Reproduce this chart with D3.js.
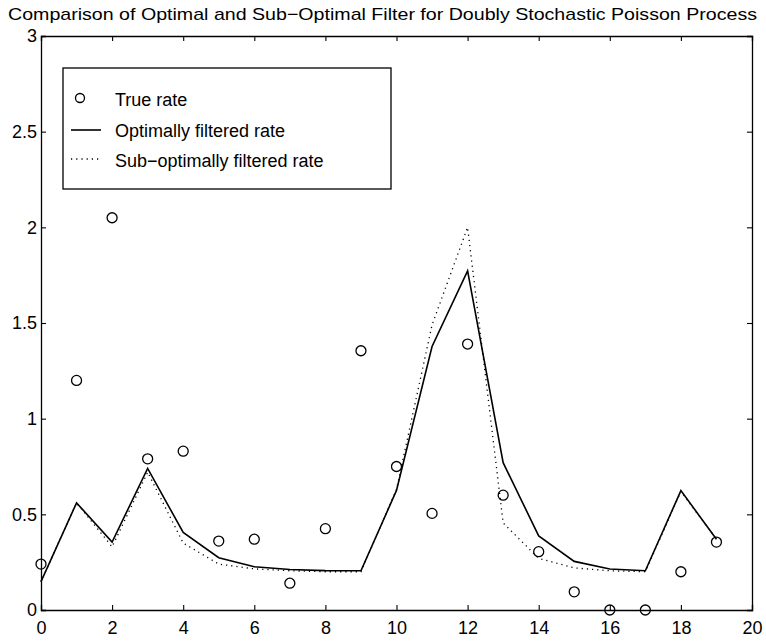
<!DOCTYPE html>
<html>
<head>
<meta charset="utf-8">
<script src="https://cdn.jsdelivr.net/npm/d3@7"></script>
<style>
  body { margin: 0; background: #fff; }
  svg { display: block; font-family: "Liberation Sans", Arial, Helvetica, sans-serif; }
</style>
</head>
<body>
<div id="chart"></div>
<script>
// data
var steps = [0, 1, 2, 3, 4, 5, 6, 7, 8, 9, 10, 11, 12, 13, 14, 15, 16, 17, 18, 19];
var trueRate = [0.24, 1.20, 2.05, 0.79, 0.83, 0.36, 0.37, 0.14, 0.425, 1.355, 0.75, 0.505, 1.39, 0.60, 0.305, 0.095, 0, 0, 0.20, 0.355];
var optRate = [0.148, 0.56, 0.355, 0.74, 0.405, 0.273, 0.226, 0.212, 0.206, 0.205, 0.625, 1.377, 1.772, 0.77, 0.387, 0.254, 0.214, 0.205, 0.624, 0.37];
var subRate = [0.148, 0.56, 0.33, 0.72, 0.35, 0.24, 0.215, 0.205, 0.2, 0.2, 0.63, 1.49, 2.0, 0.455, 0.27, 0.22, 0.205, 0.2, 0.62, 0.37];
var xTicks = [0, 2, 4, 6, 8, 10, 12, 14, 16, 18, 20];
var yTicks = [0, 0.5, 1, 1.5, 2, 2.5, 3];
var legendLabels = ["True rate", "Optimally filtered rate", "Sub\u2212optimally filtered rate"];
var title = "Comparison of Optimal and Sub\u2212Optimal Filter for Doubly Stochastic Poisson Process";

var W = 766, H = 643;
var L = 41, R = 752, T = 36, B = 610;

var svg = d3.select("#chart").append("svg").attr("width", W).attr("height", H);

var x = d3.scaleLinear().domain([0, 20]).range([L, R]);
var y = d3.scaleLinear().domain([0, 3]).range([B, T]);

// title (stretched to the width it has in the picture)
svg.append("text")
    .attr("x", 8).attr("y", 20)
    .attr("textLength", 749).attr("lengthAdjust", "spacingAndGlyphs")
    .style("font-size", "17px")
    .text(title);

// axes, ticks pointing inward
function fmt(d) { return d3.format("")(d); }
svg.append("g").attr("transform", "translate(0," + B + ")")
    .call(d3.axisBottom(x).tickValues(xTicks).tickSize(-5).tickPadding(11).tickFormat(fmt));
svg.append("g").attr("transform", "translate(0," + T + ")")
    .call(d3.axisTop(x).tickValues(xTicks).tickSize(-5).tickFormat(""));
svg.append("g").attr("transform", "translate(" + L + ",0)")
    .call(d3.axisLeft(y).tickValues(yTicks).tickSize(-5).tickPadding(4).tickFormat(fmt));
svg.append("g").attr("transform", "translate(" + R + ",0)")
    .call(d3.axisRight(y).tickValues(yTicks).tickSize(-5).tickFormat(""));

svg.selectAll(".domain").attr("stroke", "#000").attr("stroke-width", 1.3);
svg.selectAll(".tick line").attr("stroke", "#000").attr("stroke-width", 1.1);
svg.selectAll(".tick text").style("font-size", "18px").attr("fill", "#000");

// series
var line = d3.line().x(function (d, i) { return x(steps[i]); }).y(function (d) { return y(d); });

svg.append("path").datum(subRate)
    .attr("d", line).attr("fill", "none").attr("stroke", "#000")
    .attr("stroke-width", 1.3).attr("stroke-dasharray", "1.2,4");

svg.append("path").datum(optRate)
    .attr("d", line).attr("fill", "none").attr("stroke", "#000")
    .attr("stroke-width", 1.6);

svg.append("g").selectAll("circle").data(trueRate).enter().append("circle")
    .attr("cx", function (d, i) { return x(steps[i]); })
    .attr("cy", function (d) { return y(d); })
    .attr("r", 5)
    .attr("fill", "none").attr("stroke", "#000").attr("stroke-width", 1.3);

// legend
var lg = svg.append("g");
lg.append("rect").attr("x", 63).attr("y", 68).attr("width", 328).attr("height", 121)
    .attr("fill", "#fff").attr("stroke", "#000").attr("stroke-width", 1.3);
lg.append("circle").attr("cx", 80).attr("cy", 98).attr("r", 4.5)
    .attr("fill", "none").attr("stroke", "#000").attr("stroke-width", 1.3);
lg.append("line").attr("x1", 71).attr("x2", 101).attr("y1", 130).attr("y2", 130)
    .attr("stroke", "#000").attr("stroke-width", 1.6);
lg.append("line").attr("x1", 71).attr("x2", 100).attr("y1", 159).attr("y2", 159)
    .attr("stroke", "#000").attr("stroke-width", 1.3).attr("stroke-dasharray", "1.2,4");
lg.selectAll("text.lab").data(legendLabels).enter().append("text")
    .attr("class", "lab")
    .attr("x", 115)
    .attr("y", function (d, i) { return 106 + i * 30.5; })
    .style("font-size", "18px")
    .text(function (d) { return d; });
</script>
</body>
</html>
